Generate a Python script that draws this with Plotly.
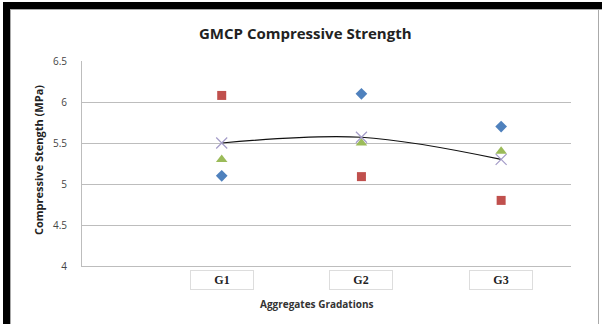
import plotly.graph_objects as go

categories = ["G1", "G2", "G3"]
cat_pos = [1, 2, 3]
series_blue = [5.1, 6.1, 5.7]
series_red = [6.08, 5.09, 4.8]
series_green = [5.3, 5.5, 5.4]
series_avg = [5.5, 5.57, 5.3]
y_ticks = [4, 4.5, 5, 5.5, 6, 6.5]
y_tick_labels = ["4", "4.5", "5", "5.5", "6", "6.5"]

W, H = 602, 324
L, R, T, B = 82, 571, 61, 266

def px(x):
    return (x - L) / (R - L)

def py(y):
    return (B - y) / (B - T)

fig = go.Figure()
fig.add_trace(go.Scatter(x=cat_pos, y=series_blue, mode="markers",
                         marker=dict(symbol="diamond", size=9, color="#4F81BD")))
fig.add_trace(go.Scatter(x=cat_pos, y=series_red, mode="markers",
                         marker=dict(symbol="square", size=9, color="#C0504D")))
fig.add_trace(go.Scatter(x=cat_pos, y=series_green, mode="markers",
                         marker=dict(symbol="triangle-up", size=10, color="#9BBB59")))
fig.add_trace(go.Scatter(x=cat_pos, y=series_avg, mode="lines",
                         line=dict(shape="spline", color="#111111", width=1.2, smoothing=1.0)))
fig.add_trace(go.Scatter(x=cat_pos, y=series_avg, mode="markers",
                         marker=dict(symbol="x-thin-open", size=11, color="#A49CC8",
                                     line=dict(color="#A49CC8", width=1.2))))

annotations = []
for c, xp in zip(categories, cat_pos):
    annotations.append(dict(x=xp, xref="x", y=py(280), yref="paper", yanchor="middle",
                            text="<b>" + c + "</b>",
                            showarrow=False, width=60, height=16,
                            bordercolor="#dddddd", borderwidth=1, borderpad=1,
                            font=dict(family="Liberation Serif", size=12, color="#222222")))
annotations.append(dict(x=px(317), y=py(304), xref="paper", yref="paper", yanchor="middle",
                        text="<b>Aggregates Gradations</b>", showarrow=False,
                        font=dict(family="Open Sans", size=10, color="#333333")))
annotations.append(dict(x=px(38), y=py(160), xref="paper", yref="paper", xanchor="center",
                        yanchor="middle",
                        text="<b>Compressive Stength (MPa)</b>", showarrow=False, textangle=-90,
                        font=dict(family="Open Sans", size=11, color="#222222")))
annotations.append(dict(x=px(305), y=py(33), xref="paper", yref="paper", yanchor="middle",
                        text="<b>GMCP Compressive Strength</b>", showarrow=False,
                        font=dict(family="Open Sans", size=15, color="#222222")))

shapes = [
    dict(type="rect", xref="paper", yref="paper", x0=px(3), x1=px(10), y0=py(324), y1=py(3),
         fillcolor="#000000", line=dict(width=0), layer="above"),
    dict(type="rect", xref="paper", yref="paper", x0=px(3), x1=px(602), y0=py(9), y1=py(2),
         fillcolor="#000000", line=dict(width=0), layer="above"),
    dict(type="line", xref="paper", yref="paper", x0=px(10.5), x1=px(10.5), y0=py(324), y1=py(9),
         line=dict(color="#aaaaaa", width=1)),
    dict(type="line", xref="paper", yref="paper", x0=px(10), x1=px(602), y0=py(9.5), y1=py(9.5),
         line=dict(color="#aaaaaa", width=1)),
    dict(type="line", xref="paper", yref="paper", x0=px(598.5), x1=px(598.5), y0=py(324), y1=py(9),
         line=dict(color="#aaaaaa", width=1)),
]

fig.update_layout(
    width=W, height=H,
    margin=dict(l=L, r=W - R, t=T, b=H - B, pad=0),
    paper_bgcolor="white", plot_bgcolor="white",
    showlegend=False,
    annotations=annotations, shapes=shapes,
    xaxis=dict(range=[0, 3.5], showticklabels=False, showgrid=False, zeroline=False,
               showline=True, linecolor="#bdbdbd", linewidth=1, ticks=""),
    yaxis=dict(range=[4, 6.5], tickvals=y_ticks, ticktext=y_tick_labels,
               showgrid=True, gridcolor="#bdbdbd", gridwidth=1, zeroline=False,
               showline=True, linecolor="#bdbdbd", linewidth=1, ticks="",
               ticklabelstandoff=12,
               tickfont=dict(family="Open Sans", size=10, color="#444444")),
)

fig.write_html("out.html", config={"displayModeBar": False},
               post_script="document.body.style.margin='0';document.body.style.overflow='hidden';")
